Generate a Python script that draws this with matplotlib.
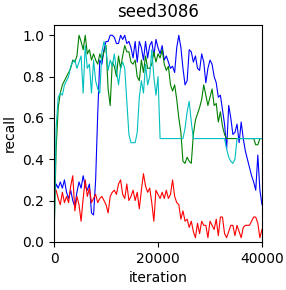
import numpy as np
import matplotlib
matplotlib.use("Agg")
import matplotlib.pyplot as plt

# one value every 400 iterations, 0..40000
iterations = np.arange(0, 40001, 400)

blue = [0.22, 0.28, 0.26, 0.29, 0.26, 0.30, 0.24, 0.21, 0.25, 0.20,
        0.17, 0.24, 0.29, 0.26, 0.32, 0.27, 0.25, 0.28, 0.14, 0.13,
        0.30, 0.62, 0.88, 0.86, 0.93, 0.97, 0.97, 1.00, 1.00, 0.99,
        0.96, 0.96, 1.00, 0.98, 1.00, 0.96, 0.97, 0.94, 0.89, 0.97,
        0.87, 0.97, 0.94, 0.88, 0.97, 0.89, 0.95, 0.97, 0.90, 0.98,
        0.94, 0.91, 0.95, 0.88, 0.90, 0.87, 0.84, 0.85, 0.82, 0.94,
        1.00, 0.94, 0.84, 0.76, 0.78, 0.93, 0.92, 0.87, 0.90, 0.84,
        0.83, 0.91, 0.87, 0.77, 0.84, 0.88, 0.86, 0.80, 0.77, 0.70,
        0.71, 0.64, 0.57, 0.45, 0.66, 0.60, 0.52, 0.53, 0.57, 0.48,
        0.58, 0.50, 0.44, 0.40, 0.36, 0.32, 0.29, 0.25, 0.42, 0.25,
        0.18]

green = [0.02, 0.45, 0.65, 0.72, 0.76, 0.78, 0.80, 0.82, 0.84, 0.88,
         0.87, 0.90, 1.00, 0.97, 0.93, 1.00, 0.91, 0.93, 0.88, 0.91,
         0.88, 0.86, 0.91, 0.88, 0.92, 0.95, 0.74, 0.66, 0.87, 0.85,
         0.80, 0.90, 0.84, 0.90, 0.95, 0.92, 0.92, 0.87, 0.86, 0.88,
         0.80, 0.78, 0.88, 0.82, 0.90, 0.84, 0.84, 0.86, 0.92, 0.87,
         0.91, 0.89, 0.93, 0.86, 0.83, 0.85, 0.76, 0.73, 0.76, 0.69,
         0.60, 0.53, 0.39, 0.38, 0.41, 0.39, 0.38, 0.52, 0.59, 0.62,
         0.65, 0.69, 0.76, 0.71, 0.66, 0.70, 0.74, 0.66, 0.67, 0.58,
         0.63, 0.56, 0.52, 0.50, 0.50, 0.50, 0.50, 0.50, 0.50, 0.50,
         0.50, 0.50, 0.50, 0.50, 0.50, 0.50, 0.50, 0.47, 0.47, 0.50,
         0.50]

cyan = [0.00, 0.55, 0.70, 0.72, 0.71, 0.76, 0.78, 0.80, 0.85, 0.87,
        0.88, 0.84, 0.87, 0.90, 0.72, 0.95, 0.84, 0.86, 0.72, 0.88,
        0.78, 0.74, 0.72, 0.92, 0.97, 0.93, 0.83, 0.88, 0.85, 0.91,
        0.83, 0.76, 0.84, 0.87, 0.84, 0.68, 0.52, 0.48, 0.48, 0.48,
        0.53, 0.70, 0.78, 0.72, 0.86, 0.76, 0.80, 0.93, 0.80, 0.71,
        0.80, 0.50, 0.50, 0.50, 0.50, 0.50, 0.50, 0.50, 0.50, 0.50,
        0.50, 0.50, 0.50, 0.55, 0.63, 0.68, 0.58, 0.50, 0.50, 0.50,
        0.50, 0.50, 0.50, 0.50, 0.50, 0.50, 0.50, 0.50, 0.50, 0.50,
        0.50, 0.50, 0.50, 0.45, 0.41, 0.39, 0.38, 0.40, 0.50, 0.50,
        0.50, 0.50, 0.50, 0.50, 0.50, 0.50, 0.50, 0.50, 0.50, 0.50,
        0.50]

red = [0.24, 0.25, 0.21, 0.18, 0.24, 0.19, 0.22, 0.19, 0.27, 0.32,
       0.15, 0.22, 0.18, 0.10, 0.21, 0.30, 0.22, 0.26, 0.19, 0.21,
       0.23, 0.19, 0.21, 0.22, 0.20, 0.18, 0.14, 0.22, 0.24, 0.25,
       0.23, 0.28, 0.30, 0.23, 0.21, 0.28, 0.20, 0.22, 0.25, 0.20,
       0.24, 0.16, 0.25, 0.33, 0.27, 0.24, 0.26, 0.19, 0.10, 0.25,
       0.23, 0.21, 0.24, 0.21, 0.25, 0.21, 0.23, 0.30, 0.22, 0.19,
       0.18, 0.11, 0.15, 0.10, 0.11, 0.07, 0.10, 0.05, 0.02, 0.09,
       0.04, 0.10, 0.08, 0.08, 0.02, 0.10, 0.08, 0.06, 0.11, 0.03,
       0.12, 0.12, 0.04, 0.02, 0.05, 0.08, 0.08, 0.03, 0.08, 0.05,
       0.02, 0.07, 0.08, 0.08, 0.08, 0.10, 0.12, 0.12, 0.09, 0.02,
       0.06]

fig = plt.figure(figsize=(2.86, 2.90), dpi=100)
ax = fig.add_axes([0.189, 0.166, 0.727, 0.748])

ax.plot(iterations, blue, color='b', linewidth=0.8)
ax.plot(iterations, green, color='g', linewidth=0.8)
ax.plot(iterations, red, color='r', linewidth=0.8)
ax.plot(iterations, cyan, color='c', linewidth=0.8)

ax.set_xlim(0, 40000)
ax.set_ylim(0, 1.05)
ax.set_xticks([0, 20000, 40000])
ax.set_yticks([0.0, 0.2, 0.4, 0.6, 0.8, 1.0])
ax.set_xlabel("iteration")
ax.set_ylabel("recall")
ax.set_title("seed3086")

fig.savefig("out.png", dpi=100)
